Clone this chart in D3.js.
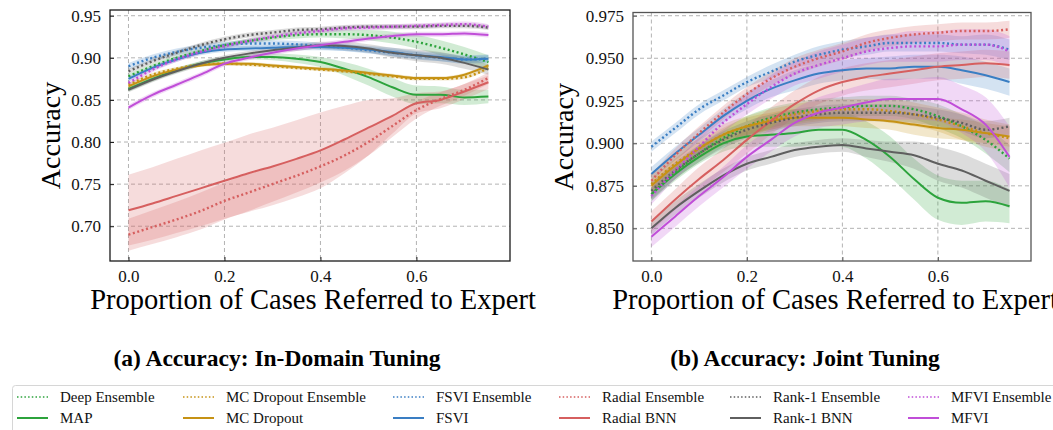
<!DOCTYPE html>
<html>
<head>
<meta charset="utf-8">
<script src="https://cdn.jsdelivr.net/npm/d3@7"></script>
<style>
  body { margin: 0; background: #fff; }
  svg { display: block; font-family: "Liberation Serif", "Times New Roman", serif; }
</style>
</head>
<body>
<svg width="1053" height="430"></svg>
<script>
// x values (proportion referred)
const referred = [0, 0.05, 0.1, 0.15, 0.2, 0.25, 0.3, 0.35, 0.4, 0.45, 0.5, 0.55, 0.6, 0.65, 0.7, 0.75];

const methods = ["Deep Ensemble", "MAP", "MC Dropout Ensemble", "MC Dropout", "FSVI Ensemble", "FSVI",
  "Radial Ensemble", "Radial BNN", "Rank-1 Ensemble", "Rank-1 BNN", "MFVI Ensemble", "MFVI"];

// (a) in-domain tuning: mean accuracy
const idDeepEnsemble = [0.878, 0.890, 0.900, 0.908, 0.915, 0.920, 0.924, 0.927, 0.928, 0.928, 0.927, 0.924, 0.919, 0.912, 0.904, 0.895];
const idMap          = [0.863, 0.875, 0.885, 0.893, 0.898, 0.901, 0.901, 0.899, 0.895, 0.887, 0.877, 0.865, 0.856, 0.856, 0.853, 0.854];
const idMcdEnsemble  = [0.868, 0.880, 0.887, 0.892, 0.893, 0.892, 0.890, 0.888, 0.886, 0.884, 0.881, 0.878, 0.875, 0.875, 0.877, 0.888];
const idMcd          = [0.866, 0.878, 0.886, 0.891, 0.893, 0.893, 0.891, 0.889, 0.887, 0.885, 0.882, 0.879, 0.876, 0.876, 0.880, 0.891];
const idFsviEnsemble = [0.890, 0.900, 0.907, 0.912, 0.915, 0.917, 0.917, 0.916, 0.914, 0.912, 0.909, 0.906, 0.903, 0.900, 0.898, 0.899];
const idFsvi         = [0.875, 0.888, 0.898, 0.906, 0.910, 0.911, 0.912, 0.913, 0.913, 0.912, 0.910, 0.907, 0.903, 0.901, 0.898, 0.899];
const idRadialEns    = [0.690, 0.699, 0.708, 0.718, 0.730, 0.740, 0.750, 0.760, 0.771, 0.784, 0.800, 0.819, 0.838, 0.851, 0.862, 0.876];
const idRadialBnn    = [0.719, 0.727, 0.736, 0.745, 0.754, 0.763, 0.771, 0.780, 0.790, 0.803, 0.817, 0.831, 0.846, 0.850, 0.860, 0.871];
const idRank1Ens     = [0.884, 0.896, 0.906, 0.915, 0.922, 0.927, 0.930, 0.933, 0.934, 0.936, 0.937, 0.937, 0.937, 0.938, 0.938, 0.936];
const idRank1Bnn     = [0.862, 0.874, 0.884, 0.893, 0.900, 0.905, 0.909, 0.912, 0.915, 0.914, 0.911, 0.906, 0.903, 0.900, 0.894, 0.886];
const idMfviEnsemble = [0.870, 0.886, 0.898, 0.907, 0.914, 0.920, 0.925, 0.929, 0.932, 0.935, 0.936, 0.937, 0.938, 0.939, 0.940, 0.937];
const idMfvi         = [0.841, 0.856, 0.868, 0.880, 0.893, 0.900, 0.906, 0.911, 0.915, 0.919, 0.923, 0.926, 0.928, 0.928, 0.929, 0.927];

// (a) band half-widths
const idDeepEnsembleSd = [0.003, 0.003, 0.003, 0.003, 0.003, 0.003, 0.003, 0.004, 0.004, 0.005, 0.006, 0.007, 0.008, 0.009, 0.009, 0.008];
const idMapSd          = [0.003, 0.003, 0.003, 0.003, 0.003, 0.003, 0.004, 0.005, 0.006, 0.008, 0.010, 0.011, 0.011, 0.010, 0.009, 0.008];
const idMcdEnsembleSd  = [0.002, 0.002, 0.002, 0.002, 0.002, 0.002, 0.002, 0.002, 0.002, 0.002, 0.002, 0.002, 0.002, 0.002, 0.002, 0.002];
const idMcdSd          = [0.002, 0.002, 0.002, 0.002, 0.002, 0.002, 0.002, 0.002, 0.002, 0.002, 0.002, 0.002, 0.002, 0.002, 0.002, 0.002];
const idFsviEnsembleSd = [0.004, 0.004, 0.004, 0.004, 0.004, 0.004, 0.004, 0.004, 0.004, 0.004, 0.004, 0.004, 0.004, 0.004, 0.004, 0.004];
const idFsviSd         = [0.003, 0.003, 0.003, 0.003, 0.003, 0.003, 0.003, 0.004, 0.004, 0.004, 0.004, 0.005, 0.005, 0.005, 0.005, 0.005];
const idRadialEnsSd    = [0.019, 0.020, 0.021, 0.022, 0.022, 0.022, 0.021, 0.020, 0.019, 0.018, 0.016, 0.013, 0.010, 0.008, 0.007, 0.007];
const idRadialBnnSd    = [0.042, 0.043, 0.044, 0.045, 0.045, 0.046, 0.046, 0.046, 0.045, 0.040, 0.033, 0.021, 0.012, 0.010, 0.009, 0.008];
const idRank1EnsSd     = [0.003, 0.003, 0.003, 0.003, 0.003, 0.003, 0.003, 0.003, 0.003, 0.003, 0.003, 0.003, 0.003, 0.003, 0.003, 0.003];
const idRank1BnnSd     = [0.003, 0.003, 0.003, 0.003, 0.003, 0.003, 0.003, 0.004, 0.004, 0.005, 0.005, 0.006, 0.007, 0.007, 0.007, 0.006];
const idMfviEnsembleSd = [0.003, 0.003, 0.003, 0.003, 0.003, 0.003, 0.003, 0.003, 0.003, 0.003, 0.003, 0.003, 0.003, 0.003, 0.003, 0.003];
const idMfviSd         = [0.003, 0.003, 0.003, 0.003, 0.003, 0.003, 0.003, 0.003, 0.003, 0.003, 0.003, 0.003, 0.003, 0.003, 0.003, 0.003];

// (b) joint tuning: mean accuracy
const jtDeepEnsemble = [0.870, 0.883, 0.894, 0.903, 0.910, 0.915, 0.918, 0.920, 0.921, 0.922, 0.922, 0.920, 0.916, 0.910, 0.902, 0.891];
const jtMap          = [0.870, 0.882, 0.892, 0.900, 0.904, 0.905, 0.906, 0.908, 0.908, 0.902, 0.892, 0.879, 0.868, 0.865, 0.866, 0.863];
const jtMcdEnsemble  = [0.876, 0.888, 0.897, 0.905, 0.910, 0.914, 0.917, 0.919, 0.920, 0.920, 0.919, 0.917, 0.914, 0.910, 0.906, 0.903];
const jtMcd          = [0.875, 0.887, 0.897, 0.905, 0.910, 0.913, 0.915, 0.915, 0.915, 0.914, 0.913, 0.911, 0.909, 0.908, 0.906, 0.904];
const jtFsviEnsemble = [0.898, 0.909, 0.920, 0.928, 0.936, 0.942, 0.948, 0.952, 0.955, 0.957, 0.959, 0.959, 0.959, 0.958, 0.958, 0.955];
const jtFsvi         = [0.882, 0.894, 0.905, 0.916, 0.925, 0.932, 0.937, 0.941, 0.943, 0.944, 0.944, 0.945, 0.945, 0.943, 0.940, 0.936];
const jtRadialEns    = [0.878, 0.893, 0.906, 0.918, 0.929, 0.938, 0.945, 0.950, 0.954, 0.959, 0.962, 0.964, 0.965, 0.966, 0.966, 0.967];
const jtRadialBnn    = [0.854, 0.867, 0.879, 0.890, 0.902, 0.913, 0.923, 0.931, 0.936, 0.939, 0.941, 0.943, 0.945, 0.946, 0.947, 0.946];
const jtRank1Ens     = [0.872, 0.884, 0.894, 0.902, 0.908, 0.912, 0.915, 0.917, 0.918, 0.918, 0.918, 0.917, 0.915, 0.912, 0.908, 0.910];
const jtRank1Bnn     = [0.850, 0.862, 0.872, 0.881, 0.888, 0.892, 0.896, 0.898, 0.899, 0.897, 0.895, 0.893, 0.888, 0.884, 0.878, 0.872];
const jtMfviEnsemble = [0.869, 0.884, 0.898, 0.912, 0.923, 0.933, 0.941, 0.946, 0.950, 0.954, 0.956, 0.957, 0.957, 0.958, 0.958, 0.954];
const jtMfvi         = [0.845, 0.857, 0.869, 0.880, 0.892, 0.902, 0.912, 0.918, 0.921, 0.924, 0.926, 0.926, 0.926, 0.920, 0.911, 0.892];

// (b) band half-widths
const jtDeepEnsembleSd = [0.004, 0.004, 0.005, 0.005, 0.006, 0.006, 0.006, 0.006, 0.006, 0.006, 0.006, 0.006, 0.007, 0.007, 0.008, 0.008];
const jtMapSd          = [0.004, 0.004, 0.004, 0.005, 0.006, 0.007, 0.008, 0.009, 0.010, 0.011, 0.012, 0.012, 0.013, 0.013, 0.012, 0.010];
const jtMcdEnsembleSd  = [0.006, 0.006, 0.006, 0.006, 0.006, 0.006, 0.006, 0.006, 0.006, 0.006, 0.007, 0.007, 0.007, 0.008, 0.008, 0.008];
const jtMcdSd          = [0.004, 0.004, 0.004, 0.004, 0.005, 0.005, 0.005, 0.005, 0.005, 0.005, 0.005, 0.006, 0.006, 0.006, 0.006, 0.006];
const jtFsviEnsembleSd = [0.003, 0.003, 0.003, 0.003, 0.003, 0.004, 0.004, 0.005, 0.005, 0.005, 0.005, 0.005, 0.005, 0.005, 0.006, 0.006];
const jtFsviSd         = [0.004, 0.004, 0.004, 0.004, 0.005, 0.005, 0.006, 0.006, 0.006, 0.006, 0.007, 0.007, 0.007, 0.008, 0.008, 0.008];
const jtRadialEnsSd    = [0.004, 0.004, 0.004, 0.004, 0.004, 0.004, 0.005, 0.005, 0.005, 0.005, 0.005, 0.005, 0.005, 0.005, 0.005, 0.005];
const jtRadialBnnSd    = [0.006, 0.006, 0.007, 0.007, 0.008, 0.008, 0.008, 0.008, 0.008, 0.008, 0.008, 0.008, 0.008, 0.008, 0.008, 0.008];
const jtRank1EnsSd     = [0.005, 0.005, 0.005, 0.005, 0.005, 0.005, 0.005, 0.005, 0.005, 0.005, 0.005, 0.005, 0.005, 0.005, 0.005, 0.005];
const jtRank1BnnSd     = [0.004, 0.004, 0.004, 0.004, 0.004, 0.004, 0.004, 0.004, 0.004, 0.005, 0.006, 0.008, 0.010, 0.010, 0.010, 0.010];
const jtMfviEnsembleSd = [0.005, 0.005, 0.006, 0.006, 0.006, 0.007, 0.007, 0.008, 0.008, 0.008, 0.008, 0.009, 0.009, 0.009, 0.009, 0.009];
const jtMfviSd         = [0.006, 0.006, 0.006, 0.006, 0.007, 0.007, 0.008, 0.009, 0.010, 0.011, 0.012, 0.012, 0.013, 0.014, 0.016, 0.018];

// tick labels
const xTicks = [0, 0.2, 0.4, 0.6];
const idYTicks = [0.70, 0.75, 0.80, 0.85, 0.90, 0.95];
const jtYTicks = [0.850, 0.875, 0.900, 0.925, 0.950, 0.975];

// colours, one per family (ensemble dotted, single model solid)
const color = d3.scaleOrdinal()
  .domain(methods)
  .range(["#2ca33c", "#2ca33c", "#c69214", "#c69214", "#3a7ec3", "#3a7ec3",
          "#d65f5f", "#d65f5f", "#5f5f5f", "#5f5f5f", "#c04ed8", "#c04ed8"]);
const isEnsemble = (name) => name.endsWith("Ensemble");

const svg = d3.select("svg");

const buildSeries = (means, sds) => methods.map((name, i) => ({
  name,
  values: referred.map((x, j) => ({ x, y: means[i][j], sd: sds[i][j] }))
}));

const panels = [
  {
    left: 110, top: 10, width: 400, height: 251,
    yDomain: [0.6587, 0.9568], yTicks: idYTicks, yFormat: d3.format(".2f"),
    frame: "#1a1a1a", labelX: 60, titleX: 277, title: "(a) Accuracy: In-Domain Tuning",
    series: buildSeries(
      [idDeepEnsemble, idMap, idMcdEnsemble, idMcd, idFsviEnsemble, idFsvi, idRadialEns, idRadialBnn, idRank1Ens, idRank1Bnn, idMfviEnsemble, idMfvi],
      [idDeepEnsembleSd, idMapSd, idMcdEnsembleSd, idMcdSd, idFsviEnsembleSd, idFsviSd, idRadialEnsSd, idRadialBnnSd, idRank1EnsSd, idRank1BnnSd, idMfviEnsembleSd, idMfviSd])
  },
  {
    left: 633, top: 12.5, width: 398, height: 248.5,
    yDomain: [0.8308, 0.9769], yTicks: jtYTicks, yFormat: d3.format(".3f"),
    frame: "#555", labelX: 573, titleX: 805, title: "(b) Accuracy: Joint Tuning",
    series: buildSeries(
      [jtDeepEnsemble, jtMap, jtMcdEnsemble, jtMcd, jtFsviEnsemble, jtFsvi, jtRadialEns, jtRadialBnn, jtRank1Ens, jtRank1Bnn, jtMfviEnsemble, jtMfvi],
      [jtDeepEnsembleSd, jtMapSd, jtMcdEnsembleSd, jtMcdSd, jtFsviEnsembleSd, jtFsviSd, jtRadialEnsSd, jtRadialBnnSd, jtRank1EnsSd, jtRank1BnnSd, jtMfviEnsembleSd, jtMfviSd])
  }
];

const drawPanel = (p) => {
  const x = d3.scaleLinear().domain([-0.0385, 0.795]).range([0, p.width]);
  const y = d3.scaleLinear().domain(p.yDomain).range([p.height, 0]);

  const g = svg.append("g").attr("transform", `translate(${p.left},${p.top})`);

  // grid
  g.append("g").selectAll("line")
    .data(p.yTicks)
    .enter().append("line")
      .attr("x1", 0).attr("x2", p.width)
      .attr("y1", (d) => y(d)).attr("y2", (d) => y(d))
      .attr("stroke", "#b3b3b3").attr("stroke-dasharray", "4,3").attr("stroke-width", 1);
  g.append("g").selectAll("line")
    .data(xTicks)
    .enter().append("line")
      .attr("y1", 0).attr("y2", p.height)
      .attr("x1", (d) => x(d)).attr("x2", (d) => x(d))
      .attr("stroke", "#b3b3b3").attr("stroke-dasharray", "4,3").attr("stroke-width", 1);

  const area = d3.area()
    .x((d) => x(d.x))
    .y0((d) => y(d.y - d.sd))
    .y1((d) => y(d.y + d.sd))
    .curve(d3.curveMonotoneX);
  const line = d3.line()
    .x((d) => x(d.x))
    .y((d) => y(d.y))
    .curve(d3.curveMonotoneX);

  // bands
  g.append("g").selectAll("path")
    .data(p.series)
    .enter().append("path")
      .attr("d", (d) => area(d.values))
      .attr("fill", (d) => color(d.name))
      .attr("fill-opacity", 0.22);

  // lines
  g.append("g").selectAll("path")
    .data(p.series)
    .enter().append("path")
      .attr("d", (d) => line(d.values))
      .attr("fill", "none")
      .attr("stroke", (d) => color(d.name))
      .attr("stroke-width", (d) => isEnsemble(d.name) ? 2.4 : 2)
      .attr("stroke-dasharray", (d) => isEnsemble(d.name) ? "2,2.6" : null);

  // axes
  const xAxis = g.append("g")
    .attr("transform", `translate(0,${p.height})`)
    .call(d3.axisBottom(x).tickValues(xTicks).tickFormat(d3.format(".1f")).tickSize(-4).tickPadding(9));
  const yAxis = g.append("g")
    .call(d3.axisLeft(y).tickValues(p.yTicks).tickFormat(p.yFormat).tickSize(-4).tickPadding(9));
  [xAxis, yAxis].forEach((a) => {
    a.select(".domain").remove();
    a.selectAll("line").attr("stroke", p.frame);
    a.selectAll("text")
      .attr("font-family", "Liberation Serif, serif")
      .attr("font-size", 17)
      .attr("fill", "#111");
  });

  g.append("rect")
    .attr("width", p.width).attr("height", p.height)
    .attr("fill", "none").attr("stroke", p.frame).attr("stroke-width", 1.3);

  // axis labels
  svg.append("text")
    .attr("transform", `translate(${p.labelX},${p.top + p.height / 2}) rotate(-90)`)
    .attr("text-anchor", "middle")
    .attr("font-size", 28)
    .text("Accuracy");
  svg.append("text")
    .attr("x", p.left + p.width / 2 + 3)
    .attr("y", 309)
    .attr("text-anchor", "middle")
    .attr("font-size", 28.5)
    .text("Proportion of Cases Referred to Expert");

  // subfigure caption
  svg.append("text")
    .attr("x", p.titleX)
    .attr("y", 366)
    .attr("text-anchor", "middle")
    .attr("font-size", 23.5)
    .attr("font-weight", "bold")
    .text(p.title);
};

panels.forEach(drawPanel);

// legend
const legendCols = [17, 183, 393, 559, 730, 908];
const legendRows = [397, 418];
svg.append("rect")
  .attr("x", 12.5).attr("y", 385.5)
  .attr("width", 1060).attr("height", 60)
  .attr("rx", 3)
  .attr("fill", "#fff").attr("stroke", "#d6d6d6");

const legendElem = svg.append("g").selectAll("g")
  .data(methods)
  .enter().append("g")
    .attr("transform", (d, i) => `translate(${legendCols[Math.floor(i / 2)]},${legendRows[i % 2]})`);

legendElem.append("line")
  .attr("x1", 0).attr("x2", 31)
  .attr("stroke", (d) => color(d))
  .attr("stroke-width", (d) => isEnsemble(d) ? 1.5 : 2)
  .attr("stroke-dasharray", (d) => isEnsemble(d) ? "1.5,2.2" : null);

legendElem.append("text")
  .attr("x", 43)
  .attr("y", 5)
  .attr("font-size", 15)
  .attr("fill", "#111")
  .text((d) => d);
</script>
</body>
</html>
